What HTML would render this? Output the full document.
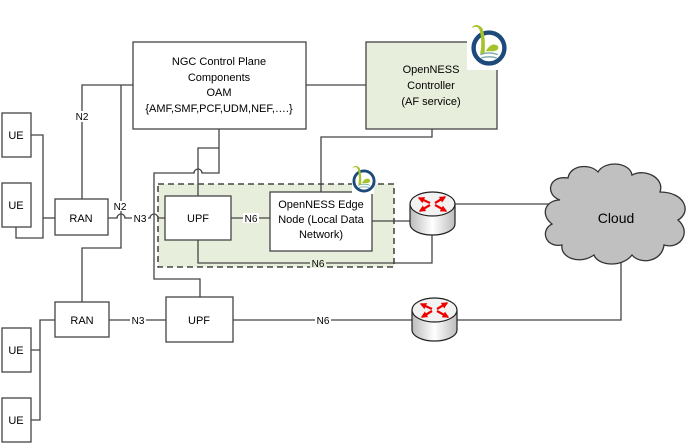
<!DOCTYPE html>
<html><head><meta charset="utf-8"><style>
html,body{margin:0;padding:0;background:#fff;}
svg{display:block;font-family:"Liberation Sans",sans-serif;}
</style></head><body>
<svg width="690" height="443" viewBox="0 0 690 443" xmlns="http://www.w3.org/2000/svg">
<defs>
<linearGradient id="rg" x1="0" x2="1"><stop offset="0" stop-color="#bbb"/><stop offset="0.5" stop-color="#fff"/><stop offset="1" stop-color="#bbb"/></linearGradient>
<marker id="ah" viewBox="0 0 10 10" refX="8" refY="5" markerWidth="3" markerHeight="3" orient="auto"><path d="M0,0 L10,5 L0,10 Z" fill="#e00"/></marker>
<g id="logo">
<circle cx="0" cy="0" r="14" fill="none" stroke="#1d4a7a" stroke-width="4"/>
<path d="M-8,6 Q0,3 8,6 M-7,9 Q0,7 7,9" stroke="#7aa" stroke-width="1.2" fill="none"/>
<path d="M-4,5 Q-3,-10 -6,-18 Q-12,-24 -16,-18 Q-9,-22 -8,-14 Q-6,-4 -8,5 Z" fill="#a5c32a"/>
<path d="M-3,3 Q2,-6 8,-2 Q10,2 4,3 Z" fill="#a5c32a"/>
</g>
</defs>
<g stroke="#444" stroke-width="1.3" fill="none">
<rect x="158" y="184" width="236" height="83" fill="#e8eedc" stroke="#222" stroke-dasharray="6,4"/>
<path d="M31,135 H43 V238 H16 V227"/>
<path d="M43,218 H55"/>
<path d="M82,199 V85 H133"/>
<path d="M121,85 V248 H82 V302"/>
<path d="M108,218 H117 a4,4 0 0 1 8,0 H150 a4,4 0 0 1 8,0 H165"/>
<path d="M231,218 H270"/>
<path d="M219,129 V173 H202 a4,4 0 0 0 -8,0 H154 V279 H200 V297"/>
<path d="M219,148 H198 V196"/>
<path d="M198,240 V263 H432 V234"/>
<path d="M372,221 H410"/>
<path d="M306,85 H366"/>
<path d="M432,129 V137 H321 V192"/>
<path d="M455,204 H550"/>
<path d="M31,350 H40 V320 H55"/>
<path d="M31,420 H40 V350"/>
<path d="M109,320 H166"/>
<path d="M233,320 H412"/>
<path d="M457,320 H621 V262"/>
</g>
<g stroke="#444" stroke-width="1.3">
<rect x="133" y="42" width="173" height="87" fill="#fff"/>
<rect x="366" y="42" width="131" height="87" fill="#e8eedc"/>
<rect x="2" y="113" width="29" height="44" fill="#fff"/>
<rect x="2" y="183" width="29" height="44" fill="#fff"/>
<rect x="2" y="328" width="29" height="44" fill="#fff"/>
<rect x="2" y="398" width="29" height="44" fill="#fff"/>
<rect x="55" y="199" width="53" height="36" fill="#fff"/>
<rect x="55" y="302" width="54" height="35" fill="#fff"/>
<rect x="165" y="196" width="66" height="44" fill="#fff"/>
<rect x="166" y="297" width="67" height="45" fill="#fff"/>
<rect x="270" y="192" width="102" height="59" fill="#fff"/>
</g>
<g font-size="10" fill="#000" text-anchor="middle">
<rect x="75" y="111" width="14" height="11" fill="#fff"/><text x="82" y="120">N2</text>
<rect x="113" y="201" width="15" height="10" fill="#fff"/><text x="120" y="210">N2</text>
<rect x="132" y="213" width="16" height="10" fill="#fff"/><text x="140" y="222">N3</text>
<rect x="243" y="213" width="16" height="10" fill="#fff"/><text x="251" y="222">N6</text>
<rect x="310" y="258" width="16" height="10" fill="#e8eedc"/><text x="318" y="267">N6</text>
<rect x="130" y="315" width="16" height="10" fill="#fff"/><text x="138" y="324">N3</text>
<rect x="315" y="315" width="16" height="10" fill="#fff"/><text x="323" y="324">N6</text>
</g>
<g stroke="#222" stroke-width="1.2">
<path d="M410,204 V224 A22.5,11 0 0 0 455,224 V204" fill="url(#rg)"/>
<ellipse cx="432.5" cy="204" rx="22.5" ry="12" fill="#f2f2f2"/>
<path d="M412,310 V330 A22.5,11 0 0 0 457,330 V310" fill="url(#rg)"/>
<ellipse cx="434.5" cy="310" rx="22.5" ry="12" fill="#f2f2f2"/>
</g>
<g stroke="#e00" stroke-width="2.2" marker-end="url(#ah)">
<path d="M430,205 L420,211"/><path d="M435,203 L445,197"/>
<path d="M430,203 L419,198"/><path d="M435,205 L446,211"/>
<path d="M432,311 L422,317"/><path d="M437,309 L447,303"/>
<path d="M432,309 L421,304"/><path d="M437,311 L448,317"/>
</g>
<path d="M560,200 C545,195 548,175 568,178 C570,165 590,163 598,172 C605,160 630,162 632,175 C645,168 665,178 660,192 C685,192 692,212 678,220 C692,232 680,250 664,245 C662,262 640,265 632,255 C622,268 598,266 594,255 C580,265 560,258 562,245 C545,248 540,230 552,224 C540,215 545,200 560,200 Z" fill="#c0c0c0" stroke="#333" stroke-width="1.3"/>
<rect x="467" y="14" width="46" height="56" fill="#fff"/>
<use href="#logo" transform="translate(489,48) scale(1.1)"/>
<rect x="352" y="160" width="22" height="34" fill="#fff"/>
<use href="#logo" transform="translate(364,181) scale(0.72)"/>
<g font-size="11" fill="#000" text-anchor="middle">
<text x="219" y="65">NGC Control Plane</text>
<text x="219" y="81">Components</text>
<text x="219" y="96">OAM</text>
<text x="219" y="112">{AMF,SMF,PCF,UDM,NEF,….}</text>
<text x="431" y="73">OpenNESS</text>
<text x="431" y="89">Controller</text>
<text x="431" y="105">(AF service)</text>
<text x="321" y="208">OpenNESS Edge</text>
<text x="321" y="223">Node (Local Data</text>
<text x="321" y="238">Network)</text>
<text x="198" y="222">UPF</text>
<text x="199" y="324">UPF</text>
<text x="81" y="222">RAN</text>
<text x="82" y="324">RAN</text>
<text x="16" y="139">UE</text>
<text x="16" y="209">UE</text>
<text x="16" y="354">UE</text>
<text x="16" y="424">UE</text>
<text x="616" y="223" font-size="14">Cloud</text>
</g>
</svg>
</body></html>
